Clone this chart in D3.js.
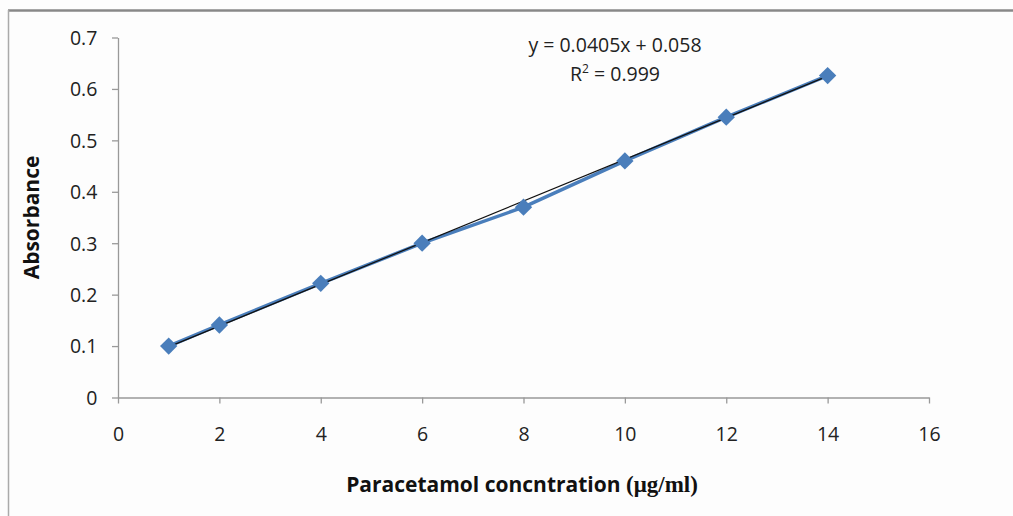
<!DOCTYPE html>
<html><head><meta charset="utf-8">
<script src="https://cdn.jsdelivr.net/npm/d3@7"></script>
<style>
html,body{margin:0;padding:0;background:#fff;}
svg{display:block;}
</style></head><body>
<svg id="c" width="1013" height="516"></svg>
<script>
const concentration = [1, 2, 4, 6, 8, 10, 12, 14];
const absorbance = [0.100, 0.141, 0.222, 0.300, 0.370, 0.460, 0.545, 0.626];
const xTicks = [0, 2, 4, 6, 8, 10, 12, 14, 16];
const yTicks = [0, 0.1, 0.2, 0.3, 0.4, 0.5, 0.6, 0.7];
const slope = 0.0405, intercept = 0.058;
const equationText = "y = 0.0405x + 0.058";

const svg = d3.select("#c");
const font = "'Open Sans', 'DejaVu Sans', sans-serif";

// frame
svg.append("rect").attr("x",0).attr("y",0).attr("width",1013).attr("height",516).attr("fill","#fdfdfd");
svg.append("line").attr("x1",8).attr("x2",1013).attr("y1",10.5).attr("y2",10.5).attr("stroke","#888").attr("stroke-width",2.5);
svg.append("line").attr("x1",8.5).attr("x2",8.5).attr("y1",10).attr("y2",516).attr("stroke","#aaa").attr("stroke-width",1.5);

const x = d3.scaleLinear().domain([0,16]).range([118,929]);
const y = d3.scaleLinear().domain([0,0.7]).range([397.5,37.5]);

const xAxis = svg.append("g").attr("transform",`translate(0,${y(0)})`)
  .call(d3.axisBottom(x).tickValues(xTicks).tickSize(6).tickSizeOuter(0).tickFormat(d3.format("d")));
const yAxis = svg.append("g").attr("transform",`translate(${x(0)},0)`)
  .call(d3.axisLeft(y).tickValues(yTicks).tickSize(6).tickSizeOuter(0).tickFormat(d => d===0 ? "0" : d3.format(".1f")(d)));
[xAxis,yAxis].forEach(g=>{
  g.select(".domain").attr("stroke","#999").attr("stroke-width",1.3);
  g.selectAll(".tick line").attr("stroke","#999").attr("stroke-width",1.3);
  g.selectAll("text").attr("font-family",font).attr("font-size",19.5).attr("fill","#222");
});
xAxis.selectAll("text").attr("dy","1.75em");
yAxis.selectAll("text").attr("dx","-0.6em").attr("dy","0.35em");

// data line
const line = d3.line().x((d,i)=>x(concentration[i])).y(d=>y(d));
svg.append("path").datum(absorbance).attr("d",line).attr("fill","none")
  .attr("stroke","#4a7ebb").attr("stroke-width",3.5).attr("stroke-linejoin","round");

// trendline
const tx = d3.extent(concentration);
svg.append("line").attr("x1",x(tx[0])).attr("y1",y(slope*tx[0]+intercept))
  .attr("x2",x(tx[1])).attr("y2",y(slope*tx[1]+intercept))
  .attr("stroke","#111").attr("stroke-width",1.3);

// markers (square rotated 45°)
const sym = d3.symbol().type(d3.symbolSquare).size(150);
svg.append("g").selectAll("path").data(absorbance).join("path")
  .attr("d",sym).attr("transform",(d,i)=>`translate(${x(concentration[i])},${y(d)}) rotate(45)`)
  .attr("fill","#4a7ebb");

// equation
svg.append("text").attr("x",615).attr("y",52).attr("text-anchor","middle")
  .attr("font-family",font).attr("font-size",19.5).attr("fill","#222").text(equationText);
const r2 = svg.append("text").attr("x",615).attr("y",81).attr("text-anchor","middle")
  .attr("font-family",font).attr("font-size",19.5).attr("fill","#222");
r2.append("tspan").text("R");
r2.append("tspan").attr("font-size",12).attr("dy",-8).text("2");
r2.append("tspan").attr("dy",8).text(" = 0.999");

// axis titles
svg.append("text").attr("transform",`translate(39,${(y(0)+y(0.7))/2}) rotate(-90)`)
  .attr("text-anchor","middle").attr("font-family",font).attr("font-size",21).attr("font-weight","bold")
  .attr("fill","#111").text("Absorbance");
const xt = svg.append("text").attr("x",522).attr("y",492).attr("text-anchor","middle")
  .attr("font-family",font).attr("font-size",21).attr("font-weight","bold").attr("fill","#111");
xt.append("tspan").text("Paracetamol concntration ");
xt.append("tspan").attr("font-family","'Liberation Serif','DejaVu Serif',serif").attr("font-size",23).text("(μg/ml)");
</script>
</body></html>
